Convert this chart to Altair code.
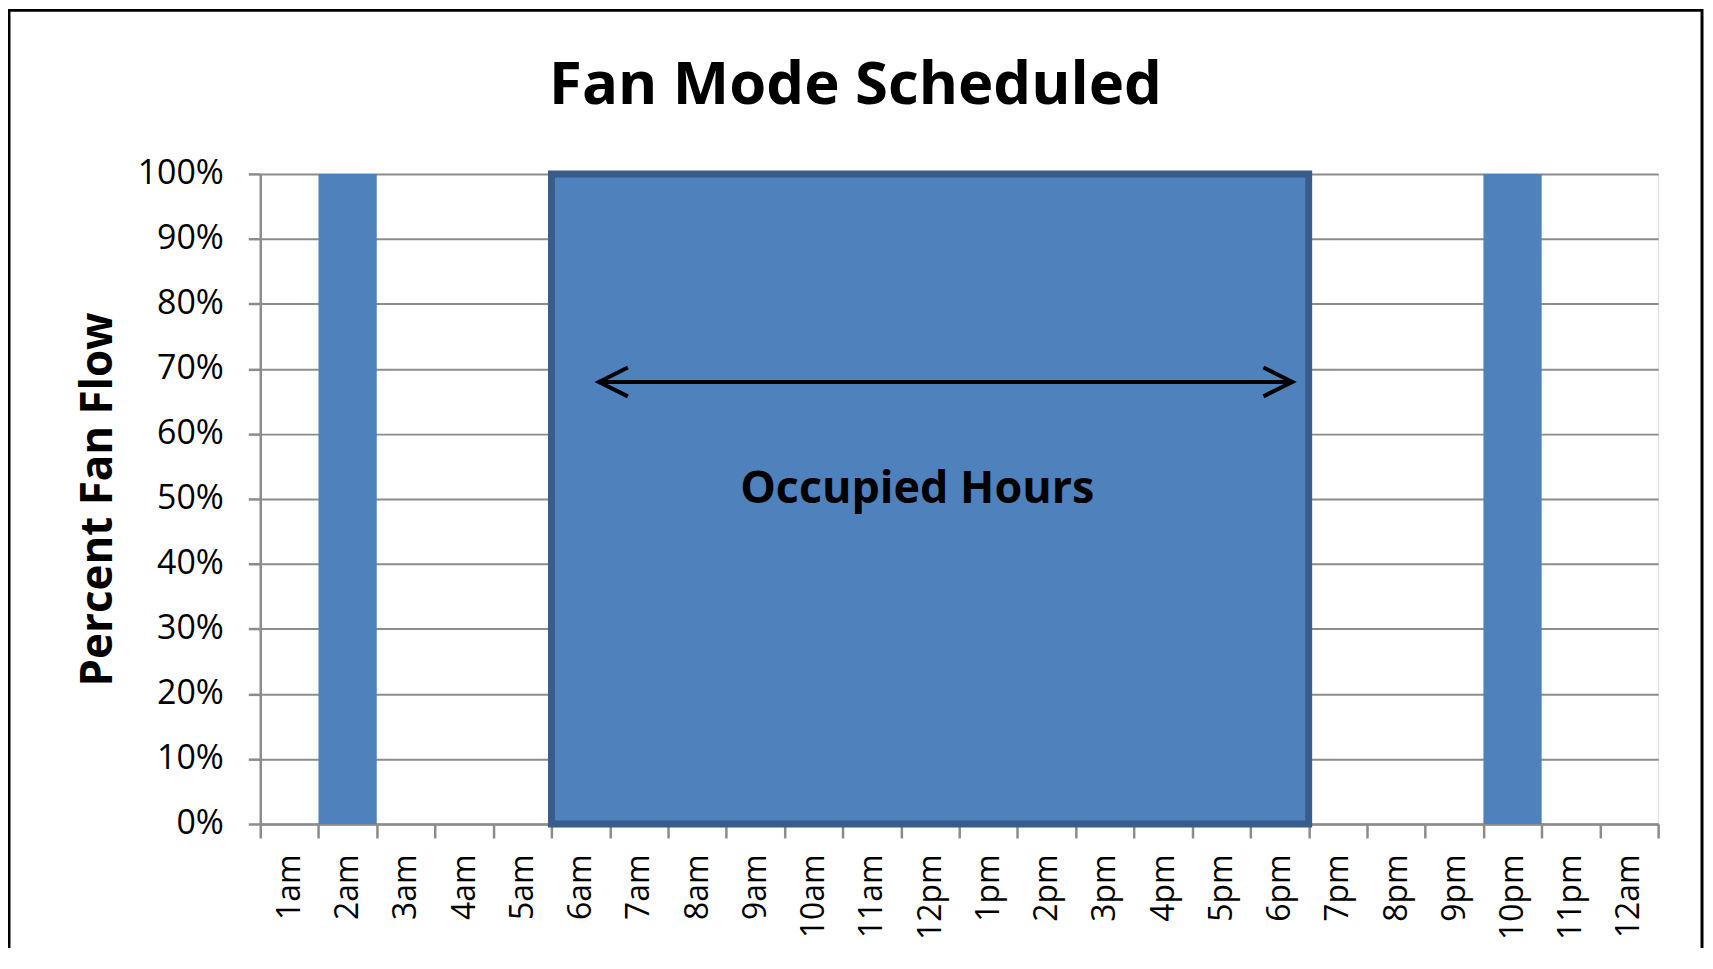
import altair as alt
import pandas as pd

# ---- data ----
hours = ["1am", "2am", "3am", "4am", "5am", "6am", "7am", "8am", "9am", "10am", "11am", "12pm",
         "1pm", "2pm", "3pm", "4pm", "5pm", "6pm", "7pm", "8pm", "9pm", "10pm", "11pm", "12am"]
fan_flow = [0, 1, 0, 0, 0, 1, 1, 1, 1, 1, 1, 1,
            1, 1, 1, 1, 1, 1, 0, 0, 0, 1, 0, 0]

occupied_start = ["6am"]
occupied_end = ["6pm"]
occupied_low = [0.0]
occupied_high = [1.0]

arrow_from = ["6am"]
arrow_to = ["6pm"]
arrow_level = [0.68]

label_text = ["Occupied Hours"]
label_hour = ["12pm"]
label_level = [0.494]

BLUE = "#4F81BD"
DARK = "#385D8A"
GRAY = "#8C8C8C"
FONT = "Open Sans"

bars_df = pd.DataFrame({"hour": hours, "flow": fan_flow})
occ_df = pd.DataFrame({"start": occupied_start, "end": occupied_end,
                       "lo": occupied_low, "hi": occupied_high})
arrow_df = pd.DataFrame({"start": arrow_from, "end": arrow_to, "level": arrow_level})
label_df = pd.DataFrame({"text": label_text, "hour": label_hour, "level": label_level})
frame_df = pd.DataFrame({"k": [0]})

xscale = alt.Scale(domain=hours, paddingInner=0, paddingOuter=0)
yscale = alt.Scale(domain=[0, 1])

x_axis = alt.Axis(
    title=None, tickBand="extent", labelAngle=270, labelAlign="right", labelBaseline="middle",
    tickSize=14, tickWidth=2.5, tickColor=GRAY, labelPadding=16, labelOverlap=False,
    labelFont=FONT, labelFontSize=32, labelColor="black",
    domainColor=GRAY, domainWidth=2.5, grid=False,
)
y_axis = alt.Axis(
    values=[0, 0.1, 0.2, 0.3, 0.4, 0.5, 0.6, 0.7, 0.8, 0.9, 1.0], format=".0%",
    tickSize=12, tickWidth=2.5, tickColor=GRAY, labelPadding=25,
    labelFont=FONT, labelFontSize=34, labelColor="black", labelAlign="right", labelBaseline="middle",
    domainColor=GRAY, domainWidth=2.5, gridColor=GRAY, gridWidth=2,
    title="Percent Fan Flow", titleFont=FONT, titleFontSize=44, titleFontWeight="bold",
    titleColor="black", titleAngle=270, titleAlign="center", titleBaseline="alphabetic",
    titleX=-149, titleY=326,
)

bars = alt.Chart(bars_df).mark_bar(color=BLUE).encode(
    x=alt.X("hour:N", sort=hours, scale=xscale, axis=x_axis),
    y=alt.Y("flow:Q", scale=yscale, axis=y_axis),
)

block = alt.Chart(occ_df).mark_rect(fill=BLUE, stroke=DARK, strokeWidth=7, strokeJoin="miter").encode(
    x=alt.X("start:N", sort=hours, scale=xscale, bandPosition=0),
    x2=alt.X2("end:N", bandPosition=1),
    y=alt.Y("lo:Q", scale=yscale),
    y2="hi:Q",
)

arrow_line = alt.Chart(arrow_df).mark_rule(color="black", strokeWidth=4).encode(
    x=alt.X("start:N", sort=hours, scale=xscale, bandPosition=0.815),
    x2=alt.X2("end:N", bandPosition=0.72),
    y=alt.Y("level:Q", scale=yscale),
)

head_left = alt.Chart(arrow_df).mark_point(
    shape="M1,-0.5L0,0L1,0.5", size=3364, filled=False, stroke="black", strokeWidth=4, opacity=1
).encode(
    x=alt.X("start:N", sort=hours, scale=xscale, bandPosition=0.815),
    y=alt.Y("level:Q", scale=yscale),
)

head_right = alt.Chart(arrow_df).mark_point(
    shape="M-1,-0.5L0,0L-1,0.5", size=3364, filled=False, stroke="black", strokeWidth=4, opacity=1
).encode(
    x=alt.X("end:N", sort=hours, scale=xscale, bandPosition=0.72),
    y=alt.Y("level:Q", scale=yscale),
)

label = alt.Chart(label_df).mark_text(
    font=FONT, fontSize=45, fontWeight="bold", color="black", align="center", baseline="alphabetic"
).encode(
    x=alt.X("hour:N", sort=hours, scale=xscale, bandPosition=0.28),
    y=alt.Y("level:Q", scale=yscale),
    text="text:N",
)

frame = alt.Chart(frame_df).mark_rect(fillOpacity=0, stroke="black", strokeWidth=3).encode(
    x=alt.value(-252), x2=alt.value(1446), y=alt.value(-164), y2=alt.value(900),
)

chart = alt.layer(bars, block, arrow_line, head_left, head_right, label, frame).properties(
    width=1402,
    height=652,
    title=alt.TitleParams(
        "Fan Mode Scheduled", font=FONT, fontSize=60, fontWeight="bold", color="black",
        anchor="middle", frame="group", dx=-104, dy=211, offset=56, baseline="alphabetic",
    ),
    autosize=alt.AutoSizeParams(type="none"),
    padding={"left": 253, "top": 165, "right": 47, "bottom": 123},
).configure_view(stroke=None).configure(background="white")

chart.save("out.html", embed_options={"renderer": "svg", "actions": False})
